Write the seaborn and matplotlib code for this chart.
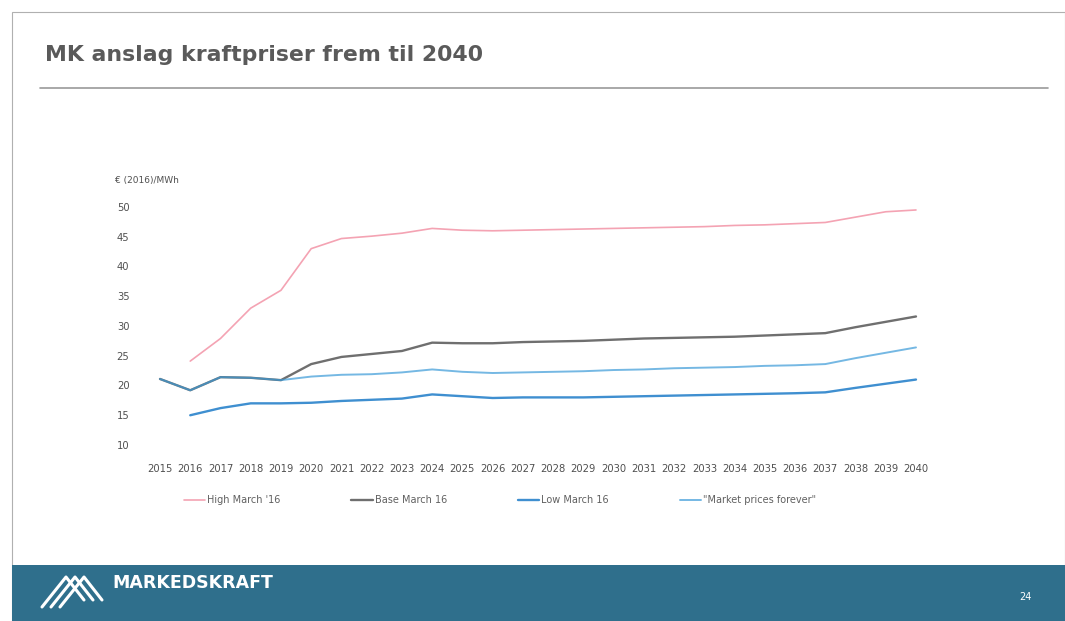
import numpy as np
import pandas as pd
import matplotlib
matplotlib.use("Agg")
import matplotlib.pyplot as plt
from matplotlib.lines import Line2D
from matplotlib.patches import Rectangle
import seaborn as sns

years = list(range(2015, 2041))
high = [np.nan, 24.1, 27.9, 33.0, 36.0, 43.0, 44.7, 45.1, 45.6, 46.4, 46.1, 46.0,
        46.1, 46.2, 46.3, 46.4, 46.5, 46.6, 46.7, 46.9, 47.0, 47.2, 47.4, 48.3, 49.2, 49.5]
base = [21.1, 19.2, 21.4, 21.3, 20.9, 23.6, 24.8, 25.3, 25.8, 27.2, 27.1, 27.1,
        27.3, 27.4, 27.5, 27.7, 27.9, 28.0, 28.1, 28.2, 28.4, 28.6, 28.8, 29.8, 30.7, 31.6]
low = [np.nan, 15.0, 16.2, 17.0, 17.0, 17.1, 17.4, 17.6, 17.8, 18.5, 18.2, 17.9,
       18.0, 18.0, 18.0, 18.1, 18.2, 18.3, 18.4, 18.5, 18.6, 18.7, 18.85, 19.6, 20.3, 21.0]
market = [21.1, 19.2, 21.4, 21.3, 20.9, 21.5, 21.8, 21.9, 22.2, 22.7, 22.3, 22.1,
          22.2, 22.3, 22.4, 22.6, 22.7, 22.9, 23.0, 23.1, 23.3, 23.4, 23.6, 24.6, 25.5, 26.4]
series_names = ["High March '16", "Base March 16", "Low March 16", "\"Market prices forever\""]
y_ticks = [10, 15, 20, 25, 30, 35, 40, 45, 50]

df = pd.DataFrame({"year": years * 4,
                   "value": high + base + low + market,
                   "series": sum([[n] * len(years) for n in series_names], [])}).dropna()

sns.set_theme(style="white")
plt.rcParams['font.family'] = ['DejaVu Sans']

W, H = 1065, 621
fig = plt.figure(figsize=(W / 100, H / 100), dpi=100)
fig.patch.set_facecolor("white")

def fx(x):
    return x / W

def fy(y):
    return 1 - y / H

# slide frame
fig.add_artist(Rectangle((fx(12), 0), 1 - fx(12), fy(12), transform=fig.transFigure,
                         fill=False, edgecolor="#b0b0b0", linewidth=0.8))
# title
fig.text(fx(45), fy(55), "MK anslag kraftpriser frem til 2040", fontsize=15.8, fontweight="bold",
         color="#5a5a5a", ha="left", va="center")
fig.add_artist(Line2D([fx(40), fx(1048)], [fy(88), fy(88)], transform=fig.transFigure,
                      color="#9a9a9a", linewidth=1.2))

# axes
ax = fig.add_axes([fx(160), fy(445), fx(916) - fx(160), fy(207) - fy(445)])
styles = {
    "Base March 16": dict(color="#6f6f6f", lw=1.7, alpha=1.0),
    "High March '16": dict(color="#f4a3b3", lw=1.2, alpha=1.0),
    "Low March 16": dict(color="#3f8fd0", lw=1.7, alpha=1.0),
    "\"Market prices forever\"": dict(color="#3a9ad8", lw=1.4, alpha=0.7),
}
order = ["Base March 16", "High March '16", "Low March 16", "\"Market prices forever\""]
for name in order:
    st = styles[name]
    sub = df[df["series"] == name]
    sns.lineplot(data=sub, x="year", y="value", ax=ax, color=st["color"], linewidth=st["lw"],
                 alpha=st["alpha"], legend=False, clip_on=False)
ax.set_xlim(2015, 2040)
ax.set_ylim(10, 50)
ax.set_xticks(years)
ax.set_xticklabels([str(y) for y in years], fontsize=7.2, color="#505050")
ax.set_yticks(y_ticks)
ax.set_yticklabels([str(v) for v in y_ticks], fontsize=7.2, color="#505050")
ax.tick_params(axis="x", length=0, pad=14)
ax.tick_params(axis="y", length=0, pad=22)
ax.set_xlabel("")
ax.set_ylabel("")
for s in ax.spines.values():
    s.set_visible(False)
ax.grid(False)
ax.patch.set_alpha(0)

fig.text(fx(115), fy(180), "€ (2016)/MWh", fontsize=6.5, color="#505050", ha="left", va="center")

handles = [Line2D([0], [0], color=styles[n]["color"], lw=styles[n]["lw"], alpha=styles[n]["alpha"])
           for n in series_names]
fig.legend(handles, series_names, loc="center left", bbox_to_anchor=(fx(175), fy(500)), ncol=4,
           frameon=False, fontsize=7, handlelength=2.2, handletextpad=0.2, columnspacing=7.3,
           labelcolor="#606060")

# footer
fig.add_artist(Rectangle((fx(12), 0), 1 - fx(12), fy(565), transform=fig.transFigure,
                         facecolor="#2f6f8c", edgecolor="none"))
fig.text(fx(112), fy(583), "MARKEDSKRAFT", fontsize=12.5, fontweight="bold", color="white",
         ha="left", va="center")
for dx in [0, 9, 18]:
    fig.add_artist(Line2D([fx(42 + dx), fx(66 + dx), fx(84 + dx)], [fy(607), fy(577), fy(600)],
                          transform=fig.transFigure, color="white", lw=2.2))
fig.text(fx(1025), fy(597), "24", fontsize=7, color="white", ha="center", va="center")

fig.savefig("out.png", dpi=100)
